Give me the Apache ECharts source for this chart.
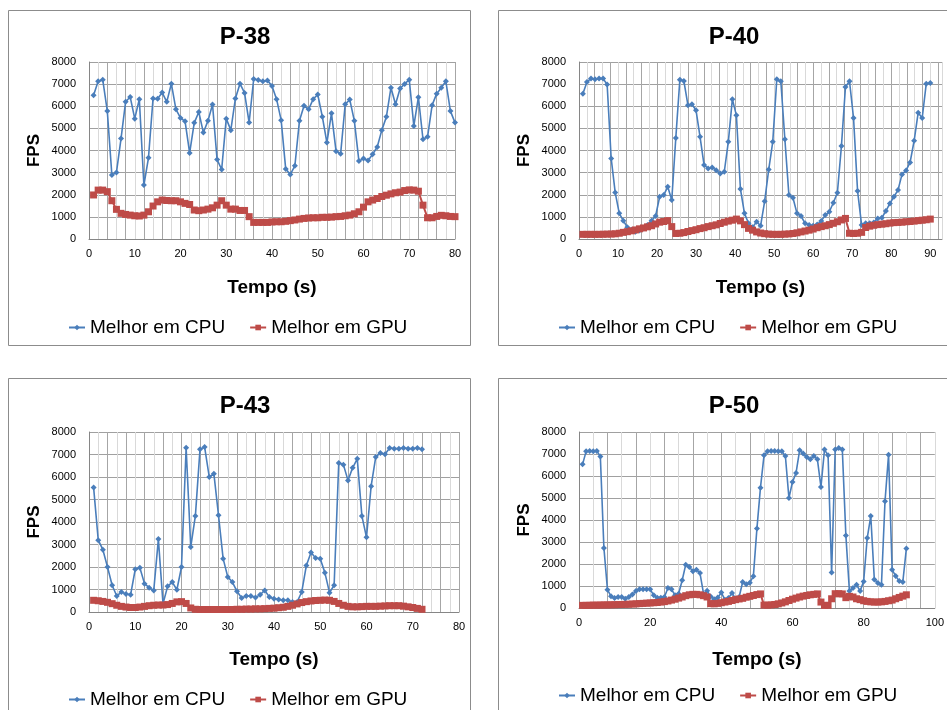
<!DOCTYPE html>
<html>
<head>
<meta charset="utf-8">
<title>FPS - Melhor em CPU / GPU</title>
<script src="https://cdn.jsdelivr.net/npm/echarts@6/dist/echarts.min.js"></script>
<style>
  html, body { margin: 0; padding: 0; background: #fff; }
  #main { width: 947px; height: 710px; }
</style>
</head>
<body>
<div id="main"></div>
<script>
// nomes e eixos
var titles = ['P-38', 'P-40', 'P-43', 'P-50'];
var seriesNames = ['Melhor em CPU', 'Melhor em GPU'];
var xName = 'Tempo (s)';
var yName = 'FPS';
var yMin = 0, yMax = 8000, yStep = 1000;
var xMax = [80, 93, 80, 100];
var xLabelStep = [10, 10, 10, 20];
var xGridStep = [2, 2, 2, 4];

// P-38 (1 amostra por segundo, t = 1..80)
var p38Cpu = [6500, 7130, 7200, 5780, 2890, 3010, 4540, 6200, 6420, 5440,
  6320, 2440, 3670, 6350, 6340, 6620, 6200, 7020, 5860, 5470,
  5320, 3890, 5250, 5740, 4810, 5340, 6080, 3590, 3140, 5440,
  4920, 6350, 7020, 6600, 5260, 7230, 7190, 7130, 7160, 6920,
  6320, 5370, 3160, 2920, 3310, 5340, 6020, 5860, 6320, 6530,
  5530, 4360, 5680, 3970, 3850, 6090, 6300, 5340, 3520, 3640,
  3550, 3830, 4160, 4920, 5520, 6840, 6090, 6800, 7010, 7200,
  5110, 6410, 4510, 4620, 6050, 6570, 6840, 7130, 5780, 5260];
var p38Gpu = [1990, 2210, 2210, 2140, 1730, 1340, 1160, 1110, 1080, 1050,
  1040, 1080, 1230, 1490, 1680, 1760, 1740, 1730, 1730, 1680,
  1610, 1560, 1310, 1280, 1310, 1350, 1410, 1530, 1730, 1530,
  1350, 1350, 1290, 1290, 1010, 750, 750, 750, 750, 770,
  780, 780, 800, 830, 860, 900, 930, 950, 960, 960,
  980, 980, 990, 1010, 1020, 1050, 1080, 1140, 1230, 1440,
  1680, 1760, 1830, 1920, 1980, 2040, 2090, 2120, 2190, 2220,
  2210, 2160, 1530, 960, 960, 1020, 1070, 1050, 1020, 1010];

// P-40 (87 amostras entre t = 1 e t = 90)
var p40First = 1, p40Last = 90;
var p40Cpu = [6570, 7100, 7250, 7220, 7250, 7250, 6980, 3640, 2100, 1160,
  830, 530, 420, 330, 380, 480, 630, 830, 1040, 1910,
  1985, 2360, 1760, 4570, 7200, 7140, 6050, 6090, 5820, 4620,
  3340, 3190, 3230, 3110, 2960, 3040, 4390, 6320, 5590, 2260,
  1160, 710, 530, 780, 600, 1710, 3140, 4390, 7220, 7130,
  4510, 1985, 1865, 1160, 1040, 710, 630, 600, 660, 810,
  1080, 1230, 1640, 2090, 4200, 6870, 7130, 5470, 2165, 630,
  710, 710, 750, 930, 960, 1260, 1610, 1910, 2210, 2920,
  3100, 3460, 4440, 5710, 5470, 7020, 7050];
var p40Gpu = [210, 210, 210, 210, 210, 215, 220, 225, 235, 260,
  300, 330, 370, 410, 460, 500, 550, 600, 680, 760,
  790, 830, 560, 250, 260, 290, 340, 380, 420, 470,
  510, 560, 600, 640, 700, 760, 810, 850, 900, 820,
  650, 480, 400, 320, 270, 240, 220, 210, 210, 210,
  220, 230, 250, 280, 320, 360, 400, 450, 510, 560,
  600, 650, 710, 780, 860, 930, 260, 250, 260, 300,
  520, 580, 620, 650, 670, 690, 720, 740, 750, 760,
  780, 790, 810, 830, 850, 870, 900];

// P-43 (t = 1..72)
var p43Cpu = [5530, 3190, 2770, 2000, 1190, 710, 890, 800, 770, 1900,
  1970, 1260, 1080, 960, 3240, 370, 1140, 1330, 990, 2000,
  7300, 2890, 4270, 7230, 7330, 6000, 6150, 4300, 2370, 1560,
  1330, 920, 620, 710, 710, 640, 770, 960, 670, 590,
  560, 520, 520, 440, 450, 890, 2070, 2640, 2400, 2370,
  1750, 860, 1190, 6620, 6550, 5850, 6410, 6810, 4270, 3320,
  5590, 6890, 7070, 7010, 7290, 7260, 7260, 7290, 7260, 7260,
  7290, 7230];
var p43Gpu = [520, 500, 470, 430, 370, 300, 250, 220, 200, 200,
  220, 250, 280, 300, 310, 310, 330, 380, 450, 460,
  380, 180, 120, 110, 110, 110, 110, 110, 110, 110,
  110, 120, 120, 130, 130, 140, 140, 150, 160, 170,
  190, 210, 250, 300, 360, 420, 460, 490, 510, 520,
  530, 520, 470, 380, 300, 250, 230, 230, 240, 250,
  250, 250, 260, 270, 280, 280, 280, 260, 230, 200,
  160, 120];

// P-50 (t = 1..92)
var p50Cpu = [6530, 7120, 7140, 7120, 7140, 6890, 2730, 830, 530, 450,
  500, 500, 420, 500, 610, 770, 850, 850, 850, 850,
  580, 470, 470, 500, 910, 850, 580, 650, 1260, 1970,
  1860, 1670, 1740, 1590, 650, 780, 520, 400, 480, 700,
  380, 450, 680, 420, 500, 1180, 1080, 1150, 1440, 3610,
  5470, 6940, 7120, 7140, 7140, 7120, 7120, 6910, 5000, 5730,
  6140, 7170, 7020, 6860, 6760, 6910, 6760, 5500, 7200, 6940,
  1610, 7200, 7270, 7210, 3300, 770, 910, 1060, 770, 1210,
  3180, 4180, 1300, 1140, 1060, 4850, 6970, 1740, 1450, 1230,
  1180, 2700];
var p50Gpu = [120, 120, 125, 130, 130, 135, 140, 140, 145, 150,
  155, 160, 165, 170, 180, 190, 200, 210, 220, 230,
  240, 250, 270, 290, 320, 360, 400, 450, 500, 560,
  600, 620, 620, 600, 560, 500, 200, 190, 210, 240,
  270, 300, 340, 380, 410, 440, 490, 530, 570, 610,
  640, 130, 130, 140, 160, 190, 230, 280, 340, 400,
  450, 500, 540, 570, 600, 620, 640, 270, 120, 120,
  420, 650, 650, 640, 470, 530, 500, 420, 380, 330,
  300, 280, 270, 270, 280, 300, 330, 360, 420, 480,
  540, 600];

// tempo de cada amostra (amostras igualmente espaçadas entre primeira e última)
function withTime(values, first, last) {
  var step = values.length > 1 ? (last - first) / (values.length - 1) : 0;
  return values.map(function (v, i) { return [first + i * step, v]; });
}

var charts = [
  { cpu: withTime(p38Cpu, 1, p38Cpu.length), gpu: withTime(p38Gpu, 1, p38Gpu.length) },
  { cpu: withTime(p40Cpu, p40First, p40Last), gpu: withTime(p40Gpu, p40First, p40Last) },
  { cpu: withTime(p43Cpu, 1, p43Cpu.length), gpu: withTime(p43Gpu, 1, p43Gpu.length) },
  { cpu: withTime(p50Cpu, 1, p50Cpu.length), gpu: withTime(p50Gpu, 1, p50Gpu.length) }
];

// layout de cada painel
var panels = [
  { box: [8, 10, 462, 335], grid: { left: 89, top: 62, width: 366, height: 177 }, cx: 240, titleTop: 20, legend: [63, 313], nameGap: 39 },
  { box: [498, 10, 470, 335], grid: { left: 579, top: 62, width: 363, height: 177 }, cx: 729, titleTop: 20, legend: [553, 313], nameGap: 39 },
  { box: [8, 378, 462, 400], grid: { left: 89, top: 432, width: 370, height: 180 }, cx: 240, titleTop: 389, legend: [63, 685], nameGap: 38 },
  { box: [498, 378, 470, 400], grid: { left: 579, top: 432, width: 362, height: 176 }, cx: 729, titleTop: 389, legend: [553, 681], nameGap: 42 }
];

var cpuColor = '#4a7ebb';
var gpuColor = '#be4b48';
var font = 'Liberation Sans, Arial, sans-serif';

var option = {
  animation: false,
  backgroundColor: '#fff',
  textStyle: { fontFamily: font },
  title: [], grid: [], xAxis: [], yAxis: [], legend: [], series: [],
  graphic: []
};

panels.forEach(function (p, k) {
  // moldura do gráfico
  option.graphic.push({
    type: 'rect', silent: true, z: -1,
    shape: { x: p.box[0] + 0.5, y: p.box[1] + 0.5, width: p.box[2], height: p.box[3] },
    style: { fill: 'none', stroke: '#8c8c8c', lineWidth: 1 }
  });
  option.title.push({
    text: titles[k], left: p.cx, top: p.titleTop, textAlign: 'center',
    textStyle: { fontFamily: font, fontSize: 24, fontWeight: 'bold', color: '#000' }
  });
  option.grid.push(p.grid);
  option.xAxis.push({
    type: 'value', gridIndex: k, min: 0, max: xMax[k], interval: xGridStep[k],
    name: xName, nameLocation: 'middle', nameGap: p.nameGap,
    nameTextStyle: { fontFamily: font, fontSize: 19, fontWeight: 'bold', color: '#000' },
    axisLine: { show: true, lineStyle: { color: '#868686' } },
    axisTick: { show: false },
    axisLabel: {
      color: '#000', fontSize: 11, margin: 9,
      formatter: (function (step) {
        return function (v) { return v % step === 0 ? String(v) : ''; };
      })(xLabelStep[k])
    },
    splitLine: { show: true, lineStyle: { color: ['#a6a6a6', '#d9d9d9'], width: 1 } }
  });
  option.yAxis.push({
    type: 'value', gridIndex: k, min: yMin, max: yMax, interval: yStep,
    name: yName, nameLocation: 'middle', nameGap: 46,
    nameTextStyle: { fontFamily: font, fontSize: 17, fontWeight: 'bold', color: '#000' },
    axisLine: { show: true, lineStyle: { color: '#868686' } },
    axisTick: { show: false },
    axisLabel: {
      color: '#000', fontSize: 11, margin: 13,
      formatter: function (v) { return String(v); }
    },
    splitLine: { show: true, lineStyle: { color: '#a0a0a0', width: 1 } }
  });
  option.legend.push({
    data: seriesNames, left: p.legend[0], top: p.legend[1], orient: 'horizontal',
    itemWidth: 16, itemHeight: 7, itemGap: 24, selectedMode: false,
    textStyle: { fontFamily: font, fontSize: 19, color: '#000' }
  });
  option.series.push({
    name: seriesNames[0], type: 'line', xAxisIndex: k, yAxisIndex: k,
    data: charts[k].cpu, symbol: 'diamond', symbolSize: 6,
    lineStyle: { color: cpuColor, width: 1.6 },
    itemStyle: { color: cpuColor }
  });
  option.series.push({
    name: seriesNames[1], type: 'line', xAxisIndex: k, yAxisIndex: k,
    data: charts[k].gpu, symbol: 'rect', symbolSize: 7,
    lineStyle: { color: gpuColor, width: 2 },
    itemStyle: { color: gpuColor }
  });
});

var myChart = echarts.init(document.getElementById('main'));
myChart.setOption(option);
</script>
</body>
</html>
